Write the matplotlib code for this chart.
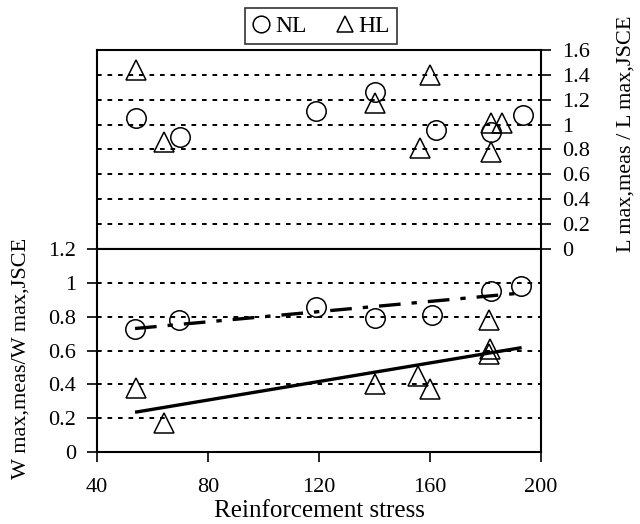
import matplotlib
matplotlib.use('Agg')
import matplotlib.pyplot as plt
from matplotlib.lines import Line2D

plt.rcParams['font.family'] = ['Liberation Serif', 'DejaVu Serif']
plt.rcParams['font.size'] = 16

# upper panel: L max,meas / L max,JSCE
nl_top_x = [54, 70, 119, 140, 162, 182, 193.5]
nl_top_y = [1.05, 0.90, 1.11, 1.26, 0.96, 0.94, 1.08]
hl_top_x = [54, 64, 140, 160, 156.5, 182, 182, 186]
hl_top_y = [1.44, 0.86, 1.17, 1.40, 0.81, 0.78, 1.01, 1.01]

# lower panel: W max,meas / W max,JSCE
nl_bot_x = [53.7, 69.7, 119, 140, 160.7, 182, 192.7]
nl_bot_y = [0.73, 0.78, 0.86, 0.79, 0.81, 0.95, 0.98]
hl_bot_x = [54, 64, 140, 155.5, 160, 181.3, 181.7, 181.3]
hl_bot_y = [0.38, 0.17, 0.40, 0.45, 0.37, 0.78, 0.61, 0.58]

# trend lines (end points)
fit_x = [53.7, 193]
nl_fit = [0.73, 0.94]
hl_fit = [0.235, 0.617]

x_ticks = [40, 80, 120, 160, 200]
top_ticks = [0, 0.2, 0.4, 0.6, 0.8, 1, 1.2, 1.4, 1.6]
bot_ticks = [0, 0.2, 0.4, 0.6, 0.8, 1, 1.2]

grid_style = dict(color='black', lw=1.4, linestyle=(0, (2.4, 3.0)))
mk = dict(linestyle='none', markersize=14, markerfacecolor='none',
          markeredgecolor='black', markeredgewidth=1.1)

fig = plt.figure(figsize=(6.4, 5.24), dpi=100)
ax1 = fig.add_axes([0.1516, 0.5248, 0.6938, 0.3798])
ax2 = fig.add_axes([0.1516, 0.1374, 0.6938, 0.3874])

# top panel
ax1.plot(nl_top_x, nl_top_y, marker='o', **mk)
ax1.plot(hl_top_x, hl_top_y, marker='^', **mk)
ax1.set_xlim(40, 200)
ax1.set_ylim(0, 1.6)
ax1.set_yticks(top_ticks)
ax1.set_yticklabels(['0', '0.2', '0.4', '0.6', '0.8', '1', '1.2', '1.4', '1.6'])
ax1.yaxis.tick_right()
ax1.yaxis.set_label_position('right')
ax1.set_xticks(x_ticks)
ax1.set_xticklabels([])
ax1.tick_params(axis='y', direction='out', length=7, width=1.2, pad=8)
ax1.tick_params(axis='x', direction='out', length=6, width=1.2)
for v in top_ticks[1:]:
    ax1.axhline(v, zorder=0, **grid_style)
ax1.set_ylabel('L max,meas / L max,JSCE', fontsize=16)
ax1.yaxis.set_label_coords(1.17, 0.58)

# bottom panel
ax2.plot(fit_x, hl_fit, color='black', lw=2.4, solid_capstyle='butt')
ax2.plot(fit_x, nl_fit, color='black', lw=2.4,
         linestyle=(0, (6.5, 3.3, 1.6, 3.3)))
ax2.plot(nl_bot_x, nl_bot_y, marker='o', **mk)
ax2.plot(hl_bot_x, hl_bot_y, marker='^', **mk)
ax2.set_xlim(40, 200)
ax2.set_ylim(0, 1.2)
ax2.set_yticks(bot_ticks)
ax2.set_yticklabels(['0', '0.2', '0.4', '0.6', '0.8', '1', '1.2'])
ax2.set_xticks(x_ticks)
ax2.tick_params(axis='both', direction='out', length=7, width=1.2)
ax2.tick_params(axis='y', pad=8)
ax2.tick_params(axis='x', pad=12)
for v in bot_ticks[1:]:
    ax2.axhline(v, zorder=0, **grid_style)
ax2.set_xlabel('Reinforcement stress', fontsize=18, labelpad=2)
ax2.set_ylabel('W max,meas/W max,JSCE', fontsize=16)
ax2.yaxis.set_label_coords(-0.15, 0.46)

for ax in (ax1, ax2):
    for s in ax.spines.values():
        s.set_linewidth(1.5)
        s.set_color('black')

handles = [Line2D([], [], marker='o', linestyle='none', markersize=12,
                  markerfacecolor='none', markeredgecolor='black', markeredgewidth=1.1),
           Line2D([], [], marker='^', linestyle='none', markersize=12,
                  markerfacecolor='none', markeredgecolor='black', markeredgewidth=1.1)]
leg = fig.legend(handles, ['NL', 'HL'], loc='center', bbox_to_anchor=(0.5016, 0.950),
                 ncol=2, frameon=True, fancybox=False, fontsize=17,
                 handlelength=0.8, handletextpad=0.2, columnspacing=1.2,
                 borderpad=0.3, borderaxespad=0)
leg.get_frame().set_edgecolor('black')
leg.get_frame().set_linewidth(1.2)

plt.savefig('out.png', facecolor='white')
